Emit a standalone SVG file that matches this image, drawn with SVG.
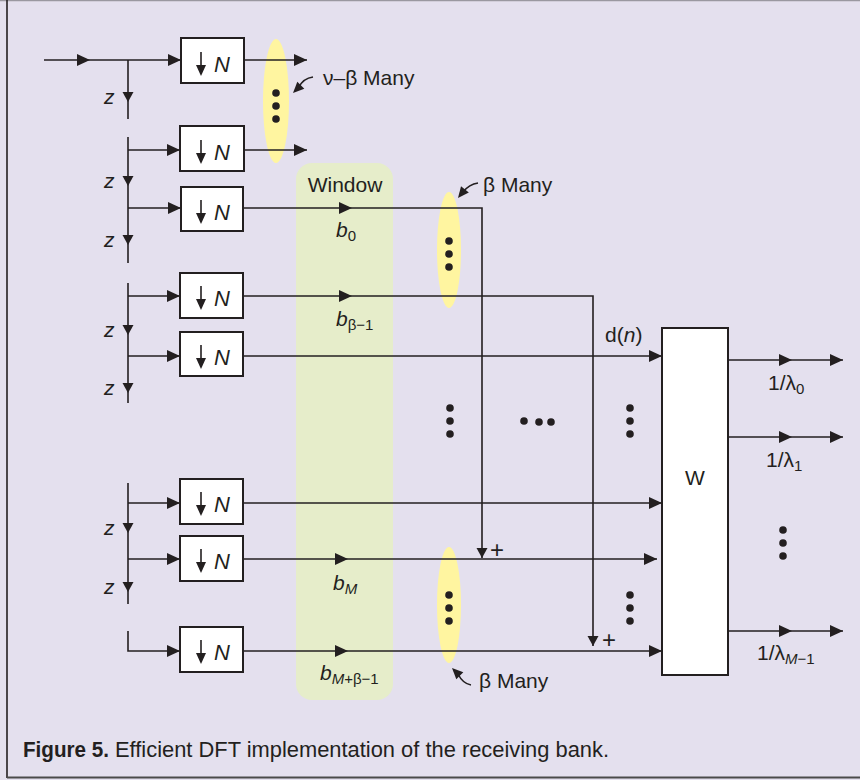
<svg xmlns="http://www.w3.org/2000/svg" xmlns:xlink="http://www.w3.org/1999/xlink" width="860" height="780" viewBox="0 0 860 780">
<style>
.ln{stroke:#231F20;stroke-width:1.6;fill:none}
.bx{fill:#fff;stroke:#231F20;stroke-width:2}
.ah{fill:#231F20}
.t{font-family:"Liberation Sans",Arial,sans-serif;font-size:21px;fill:#231F20}
.i{font-style:italic}
.nn{font-size:22px}
.sub{font-size:15px}
.pl{font-family:"Liberation Sans",Arial,sans-serif;font-size:24px;fill:#231F20}
.cap{font-family:"Liberation Sans",Arial,sans-serif;font-size:22px;fill:#231F20}
.dot{fill:#231F20}
.yel{fill:#FFF5A0}
</style>
<defs>
<path id="ar" d="M0,0 L-13,-6 L-13,6 Z" class="ah"/>
<path id="ad" d="M0,0 L-5.5,-10 L5.5,-10 Z" class="ah"/>
<g id="dn">
<line x1="0" y1="-9" x2="0" y2="5" class="ln"/>
<path d="M-5,4 L5,4 L0,15 Z" class="ah"/>
</g>
<g id="dots3v"><circle cx="0" cy="-13" r="3.8" class="dot"/><circle cx="0" cy="0" r="3.8" class="dot"/><circle cx="0" cy="13" r="3.8" class="dot"/></g>
</defs>
<rect x="0" y="0" width="860" height="780" fill="#E4E0EE"/>
<line x1="0" y1="0.5" x2="860" y2="0.5" stroke="#9a98a0" stroke-width="1.5"/>
<line x1="7" y1="0" x2="7" y2="778" stroke="#231F20" stroke-width="1.6"/>
<line x1="7" y1="777.5" x2="860" y2="777.5" stroke="#4a4a4a" stroke-width="2"/>

<g id="window">
<rect x="296" y="163" width="97" height="537" rx="16" fill="#E6EDCA"/>
<text x="345" y="192" class="t" text-anchor="middle">Window</text>
</g>

<g id="highlights">
<ellipse cx="276" cy="101" rx="13" ry="62" class="yel"/>
<ellipse cx="449" cy="250" rx="12" ry="58" class="yel"/>
<ellipse cx="449" cy="605" rx="12" ry="58" class="yel"/>
</g>

<g id="connectors">
<line x1="44" y1="60" x2="181" y2="60" class="ln"/>
<use xlink:href="#ar" x="90" y="60"/>
<use xlink:href="#ar" x="181" y="60"/>
<line x1="128" y1="60" x2="128" y2="119" class="ln"/>
<line x1="128" y1="137" x2="128" y2="263" class="ln"/>
<line x1="128" y1="283" x2="128" y2="403" class="ln"/>
<line x1="128" y1="483" x2="128" y2="604" class="ln"/>
<polyline points="128,631 128,651 180,651" class="ln"/>
<use xlink:href="#ad" x="128" y="102"/>
<use xlink:href="#ad" x="128" y="186"/>
<use xlink:href="#ad" x="128" y="245"/>
<use xlink:href="#ad" x="128" y="335"/>
<use xlink:href="#ad" x="128" y="393"/>
<use xlink:href="#ad" x="128" y="533"/>
<use xlink:href="#ad" x="128" y="592"/>
<line x1="128" y1="150" x2="180" y2="150" class="ln"/><use xlink:href="#ar" x="180" y="150"/>
<line x1="128" y1="208" x2="181" y2="208" class="ln"/><use xlink:href="#ar" x="181" y="208"/>
<line x1="128" y1="296" x2="180" y2="296" class="ln"/><use xlink:href="#ar" x="180" y="296"/>
<line x1="128" y1="356" x2="180" y2="356" class="ln"/><use xlink:href="#ar" x="180" y="356"/>
<line x1="128" y1="503" x2="180" y2="503" class="ln"/><use xlink:href="#ar" x="180" y="503"/>
<line x1="128" y1="559" x2="180" y2="559" class="ln"/><use xlink:href="#ar" x="180" y="559"/>
<use xlink:href="#ar" x="180" y="651"/>
<line x1="244" y1="60" x2="307" y2="60" class="ln"/><use xlink:href="#ar" x="307" y="60"/>
<line x1="244" y1="150" x2="307" y2="150" class="ln"/><use xlink:href="#ar" x="307" y="150"/>
<polyline points="243,208 482,208 482,558" class="ln"/>
<use xlink:href="#ar" x="352" y="208"/>
<use xlink:href="#ad" x="482" y="558"/>
<polyline points="243,296 593,296 593,646" class="ln"/>
<use xlink:href="#ar" x="352" y="296"/>
<use xlink:href="#ad" x="593" y="646"/>
<line x1="243" y1="356" x2="662" y2="356" class="ln"/><use xlink:href="#ar" x="662" y="356"/>
<line x1="243" y1="503" x2="662" y2="503" class="ln"/><use xlink:href="#ar" x="662" y="503"/>
<line x1="243" y1="559" x2="657" y2="559" class="ln"/><use xlink:href="#ar" x="657" y="559"/>
<use xlink:href="#ar" x="348" y="559"/>
<line x1="243" y1="651" x2="662" y2="651" class="ln"/><use xlink:href="#ar" x="662" y="651"/>
<use xlink:href="#ar" x="348" y="651"/>
<line x1="728" y1="360" x2="843" y2="360" class="ln"/><use xlink:href="#ar" x="792" y="360"/><use xlink:href="#ar" x="843" y="360"/>
<line x1="728" y1="437" x2="843" y2="437" class="ln"/><use xlink:href="#ar" x="792" y="437"/><use xlink:href="#ar" x="843" y="437"/>
<line x1="728" y1="631" x2="843" y2="631" class="ln"/><use xlink:href="#ar" x="792" y="631"/><use xlink:href="#ar" x="843" y="631"/>
<path d="M313,77 C306,78 302,81 299,87" class="ln"/>
<polygon points="293,93 297.3,81.7 304.3,88.7" class="ah"/>
<path d="M478,183 C471,184 467,187 463,192" class="ln"/>
<polygon points="458,198 461,186.3 468.8,192.5" class="ah"/>
<path d="M471,685 C465,684 461,680 458,674" class="ln"/>
<polygon points="452,668 463.3,672.3 456.3,679.3" class="ah"/>
</g>

<g id="down1"><rect x="181" y="38" width="63" height="45" class="bx"/><use xlink:href="#dn" x="201" y="61"/><text x="214" y="72" class="t i nn">N</text></g>
<g id="down2"><rect x="180" y="126" width="64" height="45" class="bx"/><use xlink:href="#dn" x="201" y="149"/><text x="214" y="160" class="t i nn">N</text></g>
<g id="down3"><rect x="181" y="187" width="62" height="44" class="bx"/><use xlink:href="#dn" x="201" y="209"/><text x="214" y="220" class="t i nn">N</text></g>
<g id="down4"><rect x="180" y="273" width="63" height="45" class="bx"/><use xlink:href="#dn" x="201" y="295"/><text x="214" y="306" class="t i nn">N</text></g>
<g id="down5"><rect x="180" y="332" width="63" height="44" class="bx"/><use xlink:href="#dn" x="201" y="354"/><text x="214" y="365" class="t i nn">N</text></g>
<g id="down6"><rect x="180" y="479" width="63" height="45" class="bx"/><use xlink:href="#dn" x="201" y="501"/><text x="214" y="512" class="t i nn">N</text></g>
<g id="down7"><rect x="180" y="536" width="63" height="45" class="bx"/><use xlink:href="#dn" x="201" y="558"/><text x="214" y="569" class="t i nn">N</text></g>
<g id="down8"><rect x="180" y="627" width="63" height="45" class="bx"/><use xlink:href="#dn" x="201" y="649"/><text x="214" y="660" class="t i nn">N</text></g>

<g id="W">
<rect x="662" y="328" width="66" height="347" class="bx"/>
<text x="695" y="485" class="t" text-anchor="middle">W</text>
</g>

<g id="labels">
<text x="104" y="104" class="t i">z</text>
<text x="104" y="188" class="t i">z</text>
<text x="104" y="247" class="t i">z</text>
<text x="104" y="337" class="t i">z</text>
<text x="104" y="395" class="t i">z</text>
<text x="104" y="535" class="t i">z</text>
<text x="104" y="594" class="t i">z</text>
<text x="323" y="85" class="t">ν–β Many</text>
<text x="483" y="192" class="t">β Many</text>
<text x="479" y="688" class="t">β Many</text>
<text x="336" y="237" class="t"><tspan class="i">b</tspan><tspan class="sub" dy="4">0</tspan></text>
<text x="336" y="326" class="t"><tspan class="i">b</tspan><tspan class="sub" dy="4">β−1</tspan></text>
<text x="333" y="590" class="t"><tspan class="i">b</tspan><tspan class="sub i" dy="4">M</tspan></text>
<text x="320" y="680" class="t"><tspan class="i">b</tspan><tspan class="sub" dy="4"><tspan class="i">M</tspan>+β−1</tspan></text>
<text x="605" y="342" class="t">d(<tspan class="i">n</tspan>)</text>
<text x="768" y="390" class="t">1/λ<tspan class="sub" dy="4">0</tspan></text>
<text x="766" y="467" class="t">1/λ<tspan class="sub" dy="4">1</tspan></text>
<text x="757" y="660" class="t">1/λ<tspan class="sub i" dy="4">M</tspan><tspan class="sub">−1</tspan></text>
<text x="490" y="558" class="pl">+</text>
<text x="602" y="648" class="pl">+</text>
</g>

<g id="ellipsis">
<use xlink:href="#dots3v" x="276" y="106"/>
<use xlink:href="#dots3v" x="449" y="254"/>
<use xlink:href="#dots3v" x="449" y="608"/>
<use xlink:href="#dots3v" x="630" y="608"/>
<use xlink:href="#dots3v" x="450" y="421"/>
<use xlink:href="#dots3v" x="630" y="421"/>
<use xlink:href="#dots3v" x="783" y="543"/>
<circle cx="524" cy="421" r="3.8" class="dot"/>
<circle cx="539" cy="422" r="3.8" class="dot"/>
<circle cx="551" cy="422" r="3.8" class="dot"/>
</g>

<g id="caption">
<text x="23" y="757" class="cap" style="font-weight:bold" textLength="86" lengthAdjust="spacingAndGlyphs">Figure 5.</text>
<text x="115" y="757" class="cap" textLength="494" lengthAdjust="spacingAndGlyphs">Efficient DFT implementation of the receiving bank.</text>
</g>
</svg>
